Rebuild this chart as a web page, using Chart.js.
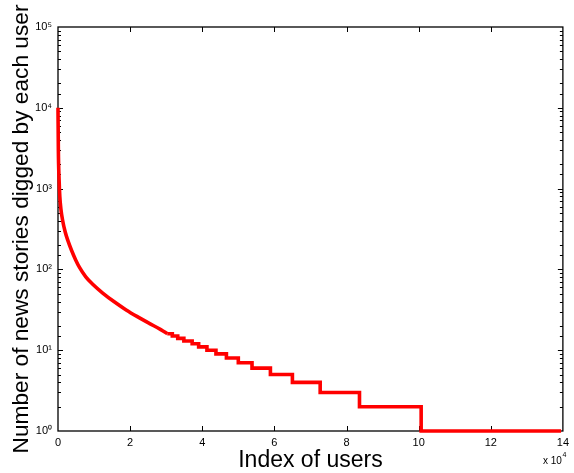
<!DOCTYPE html>
<html>
<head>
<meta charset="utf-8">
<script src="https://cdn.jsdelivr.net/npm/chart.js@4.4.1/dist/chart.umd.min.js"></script>
<style>
  html, body { margin: 0; padding: 0; background: #fff; }
  canvas { display: block; }
</style>
</head>
<body>
<canvas id="c" width="574" height="473"></canvas>
<script>
// ---- data (x in units of 10^4 users) ----
const xSmooth = [0, 0.01, 0.03, 0.05, 0.08, 0.13, 0.2, 0.27, 0.38, 0.49, 0.6, 0.77, 0.97, 1.24, 1.55, 1.89, 2.2, 2.53, 2.85, 3.03];
const ySmooth = [10000, 3000, 1300, 800, 560, 400, 290, 230, 170, 131, 105, 81, 65, 51, 40, 31.5, 26, 21.5, 18, 16];
const xStep = [3.03, 3.17, 3.32, 3.49, 3.72, 3.90, 4.13, 4.38, 4.67, 5.00, 5.38, 5.89, 6.50, 7.27, 8.36, 10.07, 13.95];
const yStep = [16, 15, 14, 13, 12, 11, 10, 9, 8, 7, 6, 5, 4, 3, 2, 1, 1];

const xTickValues = [0, 2, 4, 6, 8, 10, 12, 14];
const xTickText = ['0', '2', '4', '6', '8', '10', '12', '14'];
const yTickValues = [1, 10, 100, 1000, 10000, 100000];
const yTickText = ['10⁰', '10¹', '10²', '10³', '10⁴', '10⁵'];

const xTitle = 'Index of users';
const yTitle = 'Number of news stories digged by each user';
const xMultiplierBase = 'x 10';
const xMultiplierExp = '4';

const FONT = '"Liberation Sans", Arial, sans-serif';

function toPoints(xs, ys) { return xs.map((x, i) => ({ x: x, y: ys[i] })); }

const frame = {
  id: 'frame',
  beforeDatasetsDraw(chart) {
    const { ctx, chartArea: a, scales } = chart;
    const x = scales.x, y = scales.y;
    ctx.save();
    ctx.strokeStyle = '#000';
    ctx.lineWidth = 1.3;
    ctx.strokeRect(a.left, a.top, a.right - a.left, a.bottom - a.top);
    ctx.lineWidth = 1;
    ctx.beginPath();
    x.ticks.forEach(t => {
      const px = Math.round(x.getPixelForValue(t.value)) + 0.5;
      if (px <= a.left + 1 || px >= a.right - 1) return;
      ctx.moveTo(px, a.bottom); ctx.lineTo(px, a.bottom - 5);
      ctx.moveTo(px, a.top); ctx.lineTo(px, a.top + 5);
    });
    y.ticks.forEach(t => {
      const py = Math.round(y.getPixelForValue(t.value)) + 0.5;
      if (py >= a.bottom - 1 || py <= a.top + 1) return;
      const lg = Math.log10(t.value);
      const major = Math.abs(lg - Math.round(lg)) < 1e-6;
      const len = major ? 5 : 3;
      ctx.moveTo(a.left, py); ctx.lineTo(a.left + len, py);
      ctx.moveTo(a.right, py); ctx.lineTo(a.right - len, py);
    });
    ctx.stroke();
    ctx.restore();
  },
  afterDraw(chart) {
    const { ctx, chartArea: a } = chart;
    ctx.save();
    ctx.fillStyle = '#000';
    ctx.textAlign = 'center';
    ctx.textBaseline = 'alphabetic';
    ctx.font = '23px ' + FONT;
    ctx.fillText(xTitle, (a.left + a.right) / 2, 466.5);
    ctx.save();
    ctx.translate(27.5, (a.top + a.bottom) / 2);
    ctx.rotate(-Math.PI / 2);
    ctx.font = '22.7px ' + FONT;
    ctx.fillText(yTitle, 0, 0);
    ctx.restore();
    ctx.textAlign = 'left';
    ctx.font = '10px ' + FONT;
    ctx.fillText(xMultiplierBase, 543, 464);
    const w = ctx.measureText(xMultiplierBase).width;
    ctx.font = '7px ' + FONT;
    ctx.fillText(xMultiplierExp, 543 + w + 0.5, 457);
    ctx.restore();
  }
};

new Chart(document.getElementById('c'), {
  type: 'line',
  data: {
    datasets: [
      {
        data: toPoints(xSmooth, ySmooth),
        borderColor: '#ff0000',
        borderWidth: 3.6,
        pointRadius: 0,
        cubicInterpolationMode: 'monotone',
        clip: false
      },
      {
        data: toPoints(xStep, yStep),
        borderColor: '#ff0000',
        borderWidth: 3.6,
        pointRadius: 0,
        stepped: true,
        borderJoinStyle: 'miter',
        clip: false
      }
    ]
  },
  options: {
    responsive: false,
    animation: false,
    devicePixelRatio: 1,
    layout: { padding: { top: 27, right: 6, left: 0, bottom: 0 } },
    plugins: { legend: { display: false }, tooltip: { enabled: false } },
    scales: {
      x: {
        type: 'linear',
        min: 0, max: 14,
        grid: { display: false, drawTicks: false },
        border: { display: false },
        afterBuildTicks(s) { s.ticks = xTickValues.map(v => ({ value: v })); },
        ticks: {
          autoSkip: false, maxRotation: 0, padding: 5,
          color: '#000', font: { family: FONT, size: 11 },
          callback: (v) => { const i = xTickValues.indexOf(v); return i >= 0 ? xTickText[i] : ''; }
        },
        afterFit(s) { s.height = 42; }
      },
      y: {
        type: 'logarithmic',
        min: 1, max: 100000,
        grid: { display: false, drawTicks: false },
        border: { display: false },
        ticks: {
          autoSkip: false, padding: 6,
          color: '#000', font: { family: FONT, size: 11 },
          callback: (v) => {
            const i = yTickValues.findIndex(t => Math.abs(v - t) / t < 1e-6);
            return i >= 0 ? yTickText[i] : '';
          }
        },
        afterFit(s) { s.width = 58; }
      }
    }
  },
  plugins: [frame]
});
</script>
</body>
</html>
